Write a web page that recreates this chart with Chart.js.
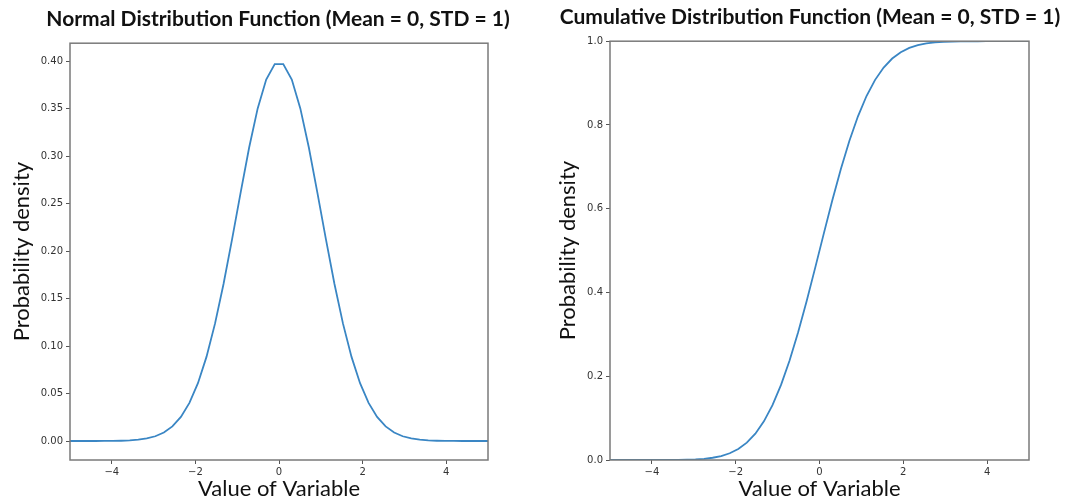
<!DOCTYPE html>
<html>
<head>
<meta charset="utf-8">
<script src="https://cdn.jsdelivr.net/npm/chart.js@4"></script>
<style>
  html, body { margin: 0; padding: 0; background: #fff; }
  .box { position: absolute; top: 0; height: 502px; }
  #leftBox { left: 0; width: 556px; }
  #rightBox { left: 550px; width: 520px; }
</style>
</head>
<body>
<div class="box" id="leftBox"><canvas id="pdfChart"></canvas></div>
<div class="box" id="rightBox"><canvas id="cdfChart"></canvas></div>
<script>
// sample points along the x axis (50 points between -5 and 5)
const xValues = [
  -5.000, -4.796, -4.592, -4.388, -4.184, -3.980, -3.776, -3.571, -3.367, -3.163,
  -2.959, -2.755, -2.551, -2.347, -2.143, -1.939, -1.735, -1.531, -1.327, -1.122,
  -0.918, -0.714, -0.510, -0.306, -0.102, 0.102, 0.306, 0.510, 0.714, 0.918,
  1.122, 1.327, 1.531, 1.735, 1.939, 2.143, 2.347, 2.551, 2.755, 2.959,
  3.163, 3.367, 3.571, 3.776, 3.980, 4.184, 4.388, 4.592, 4.796, 5.000
];

// density
const pdfValues = [
  0.0000, 0.0000, 0.0000, 0.0000, 0.0001, 0.0001, 0.0003, 0.0007, 0.0014, 0.0027,
  0.0050, 0.0090, 0.0154, 0.0254, 0.0402, 0.0609, 0.0886, 0.1236, 0.1654, 0.2126,
  0.2617, 0.3091, 0.3503, 0.3807, 0.3969, 0.3969, 0.3807, 0.3503, 0.3091, 0.2617,
  0.2126, 0.1654, 0.1236, 0.0886, 0.0609, 0.0402, 0.0254, 0.0154, 0.0090, 0.0050,
  0.0027, 0.0014, 0.0007, 0.0003, 0.0001, 0.0001, 0.0000, 0.0000, 0.0000, 0.0000
];

// cumulative values
const cdfValues = [
  0.0000, 0.0000, 0.0000, 0.0000, 0.0000, 0.0000, 0.0001, 0.0002, 0.0004, 0.0008,
  0.0015, 0.0029, 0.0054, 0.0095, 0.0161, 0.0263, 0.0414, 0.0629, 0.0923, 0.1309,
  0.1793, 0.2377, 0.3050, 0.3798, 0.4594, 0.5406, 0.6202, 0.6950, 0.7623, 0.8207,
  0.8691, 0.9077, 0.9371, 0.9586, 0.9737, 0.9839, 0.9905, 0.9946, 0.9971, 0.9985,
  0.9992, 0.9996, 0.9998, 0.9999, 1.0000, 1.0000, 1.0000, 1.0000, 1.0000, 1.0000
];

const xTicks = [-4, -2, 0, 2, 4];
const pdfTicks = [0.00, 0.05, 0.10, 0.15, 0.20, 0.25, 0.30, 0.35, 0.40];
const cdfTicks = [0.0, 0.2, 0.4, 0.6, 0.8, 1.0];

const pdfTitle = 'Normal Distribution Function (Mean = 0, STD = 1)';
const cdfTitle = 'Cumulative Distribution Function (Mean = 0, STD = 1)';
const xLabel = 'Value of Variable';
const yLabel = 'Probability density';

const lineColor = '#3a86c4';
const frameColor = '#7a7a7a';
const tickColor = '#333';
const textFont = 'Lato, "Open Sans", sans-serif';

const minus = s => s.replace('-', '\u2212');

// draws the full box around the plot area, like matplotlib spines
const framePlugin = {
  id: 'frame',
  afterDraw(chart) {
    const { ctx, chartArea: a } = chart;
    ctx.save();
    ctx.strokeStyle = frameColor;
    ctx.lineWidth = 1.5;
    ctx.strokeRect(a.left, a.top, a.right - a.left, a.bottom - a.top);
    ctx.restore();
  }
};

function makeChart(id, title, yValues, yTicks, yMin, yMax, decimals, cfg) {
  const ctx = document.getElementById(id).getContext('2d');
  return new Chart(ctx, {
    type: 'line',
    data: {
      datasets: [{
        data: xValues.map((x, i) => ({ x, y: yValues[i] })),
        borderColor: lineColor,
        borderWidth: 1.8,
        pointRadius: 0,
        tension: 0,
        fill: false
      }]
    },
    plugins: [framePlugin],
    options: {
      responsive: true,
      maintainAspectRatio: false,
      animation: false,
      layout: { padding: 0 },
      plugins: {
        legend: { display: false },
        tooltip: { enabled: false },
        title: {
          display: true,
          text: title,
          color: '#111',
          align: 'center',
          font: { family: textFont, size: 21, weight: 'bold' },
          padding: { top: cfg.titleTop, bottom: cfg.titleBottom }
        }
      },
      scales: {
        x: {
          type: 'linear',
          min: -5,
          max: 5,
          afterBuildTicks: s => { s.ticks = xTicks.map(v => ({ value: v })); },
          afterFit: s => { s.height = 42; },
          ticks: {
            color: tickColor,
            font: { family: 'DejaVu Sans', size: 10 },
            padding: 2,
            maxRotation: 0,
            callback: v => minus(String(v))
          },
          grid: { drawOnChartArea: false, drawTicks: true, tickLength: 4, color: '#555' },
          border: { display: false },
          title: {
            display: true,
            text: xLabel,
            color: '#111',
            font: { family: textFont, size: 22 },
            padding: { top: 0, bottom: 0 }
          }
        },
        y: {
          min: yMin,
          max: yMax,
          afterBuildTicks: s => { s.ticks = yTicks.map(v => ({ value: v })); },
          afterFit: s => { s.width = cfg.yWidth; },
          ticks: {
            color: tickColor,
            font: { family: 'DejaVu Sans', size: 10 },
            padding: 3,
            callback: v => minus(Number(v).toFixed(decimals))
          },
          grid: { drawOnChartArea: false, drawTicks: true, tickLength: 4, color: '#555' },
          border: { display: false },
          title: {
            display: true,
            text: yLabel,
            color: '#111',
            font: { family: textFont, size: 22 },
            padding: { top: cfg.yTitlePad, bottom: 0 }
          }
        },
        // empty spacer on the right so the title centres like the reference
        spacer: {
          type: 'linear',
          position: 'right',
          min: 0,
          max: 1,
          afterFit: s => { s.width = cfg.rightGap; },
          ticks: { display: false },
          grid: { display: false },
          border: { display: false }
        }
      }
    }
  });
}

makeChart('pdfChart', pdfTitle, pdfValues, pdfTicks, -0.02, 0.419, 2,
  { rightGap: 68, titleTop: 7, titleBottom: 11, yWidth: 70, yTitlePad: 9 });
makeChart('cdfChart', cdfTitle, cdfValues, cdfTicks, 0, 1, 1,
  { rightGap: 41, titleTop: 5, titleBottom: 11, yWidth: 60, yTitlePad: 5 });
</script>
</body>
</html>
